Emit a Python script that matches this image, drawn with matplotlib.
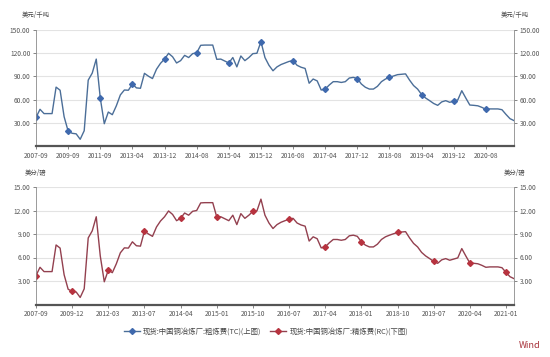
import numpy as np
import pandas as pd
import matplotlib
matplotlib.use("Agg")
import matplotlib.pyplot as plt
from matplotlib.lines import Line2D

plt.rcParams["font.family"] = ["Noto Sans CJK SC", "DejaVu Sans"]

# category axis: quarterly early on, monthly from 2013-04
early_dates = ["2007-09", "2007-12", "2008-03", "2008-06", "2008-09", "2008-12",
               "2009-03", "2009-06", "2009-09", "2009-12", "2010-03", "2010-06",
               "2010-09", "2010-12", "2011-03", "2011-06", "2011-09", "2011-12",
               "2012-03", "2012-06", "2012-09", "2012-12", "2013-01", "2013-03"]
monthly_dates = list(pd.period_range("2013-04", "2021-03", freq="M").strftime("%Y-%m"))
dates = early_dates + monthly_dates

# TC, USD/t (upper panel)
tc = [37, 47.5, 42, 42, 42, 76, 72, 38, 19.5, 16.7,
      16, 9, 20, 85, 94, 112, 62, 29, 44, 40.6,
      52, 66, 72.3, 72, 80, 75, 74.5, 93.7, 90, 87,
      99, 106.6, 112, 119.4, 115, 107, 110, 116.8, 114, 119,
      120, 129.7, 130, 130, 130, 111.7, 112, 109.5, 107, 114,
      102, 116, 110, 114, 119, 119.5, 134.5, 114, 104, 97,
      102, 105, 107, 109, 110, 104, 101.5, 100, 81, 86.4,
      84, 72.3, 73.5, 78.7, 83, 83, 82, 83, 87.7, 88.5,
      87, 80, 75.8, 73.5, 73.5, 77, 83, 86.4, 88.5, 90.3,
      92, 92.5, 93, 85, 78, 73.5, 66.5, 62, 58.6, 55,
      52.6, 57, 58.6, 56.5, 58, 59.5, 71.4, 62, 53, 52.6,
      52, 50, 47.5, 48, 48, 48, 47, 41, 35.5, 33]

# RC, US cents/lb (lower panel)
rc = [3.7, 4.75, 4.2, 4.2, 4.2, 7.6, 7.2, 3.8, 1.95, 1.67,
      1.6, 0.9, 2.0, 8.5, 9.4, 11.2, 6.2, 2.9, 4.4, 4.06,
      5.2, 6.6, 7.23, 7.2, 8.0, 7.5, 7.45, 9.37, 9.0, 8.7,
      9.9, 10.66, 11.2, 11.94, 11.5, 10.7, 11.0, 11.68, 11.4, 11.9,
      12.0, 12.97, 13.0, 13.0, 13.0, 11.17, 11.2, 10.95, 10.7, 11.4,
      10.2, 11.6, 11.0, 11.4, 11.9, 11.95, 13.45, 11.4, 10.4, 9.7,
      10.2, 10.5, 10.7, 10.9, 11.0, 10.4, 10.15, 10.0, 8.1, 8.64,
      8.4, 7.23, 7.35, 7.87, 8.3, 8.3, 8.2, 8.3, 8.77, 8.85,
      8.7, 8.0, 7.58, 7.35, 7.35, 7.7, 8.3, 8.64, 8.85, 9.03,
      9.2, 9.25, 9.3, 8.5, 7.8, 7.35, 6.65, 6.2, 5.86, 5.5,
      5.26, 5.7, 5.86, 5.65, 5.8, 5.95, 7.14, 6.2, 5.3, 5.26,
      5.2, 5.0, 4.75, 4.8, 4.8, 4.8, 4.7, 4.1, 3.55, 3.3]

tc_ticks = [30, 60, 90, 120, 150]
rc_ticks = [3, 6, 9, 12, 15]
tc_label = "现货:中国铜冶炼厂:粗炼费(TC)(上图)"
rc_label = "现货:中国铜冶炼厂:精炼费(RC)(下图)"

blue_line, blue_mk = "#4b6e98", "#3f69ad"
red_line, red_mk = "#93404f", "#b7333f"
tick_color = "#555555"
fs = 4.8

fig = plt.figure(figsize=(5.5, 3.57), dpi=100)
ax1 = fig.add_axes([36/550, 1-146.3/357, 478/550, 116.8/357])
ax2 = fig.add_axes([36/550, 1-304.5/357, 478/550, 117.5/357])

x = np.arange(len(dates))

def style(ax, yticks, step, ymax):
    ax.set_xlim(0, len(dates) - 1)
    ax.set_ylim(0, ymax)
    ax.set_yticks(yticks)
    ax.set_yticklabels(["%.2f" % v for v in yticks])
    xt = list(range(0, len(dates), step))
    ax.set_xticks(xt)
    ax.set_xticklabels([dates[i] for i in xt])
    ax.grid(axis="y", color="#e3e3e3", linewidth=0.8)
    ax.set_axisbelow(True)
    ax.spines["top"].set_visible(False)
    for s in ["left", "right"]:
        ax.spines[s].set_color("#8a8a8a")
        ax.spines[s].set_linewidth(0.6)
    ax.spines["bottom"].set_color("#555555")
    ax.spines["bottom"].set_linewidth(1.6)
    ax.tick_params(axis="y", labelsize=fs, colors=tick_color, length=2.5, width=0.5,
                   right=True, labelright=True, pad=1.5)
    ax.tick_params(axis="x", labelsize=fs, colors=tick_color, length=2, width=0.5, pad=2)

ax1.plot(x, tc, color=blue_line, linewidth=1.0)
m1 = list(range(0, len(dates), 8))
ax1.plot(x[m1], [tc[i] for i in m1], linestyle="none", marker="D", markersize=3,
         color=blue_mk)
style(ax1, tc_ticks, 8, 150)

ax2.plot(x, rc, color=red_line, linewidth=1.0)
m2 = list(range(0, len(dates), 9))
ax2.plot(x[m2], [rc[i] for i in m2], linestyle="none", marker="D", markersize=3,
         color=red_mk)
style(ax2, rc_ticks, 9, 15)

# unit labels
fig.text(36/550, 1-15/357, "美元/千吨", fontsize=4.6, color="#444444", ha="center", va="center")
fig.text(515/550, 1-15/357, "美元/千吨", fontsize=4.6, color="#444444", ha="center", va="center")
fig.text(36/550, 1-173/357, "美分/磅", fontsize=4.6, color="#444444", ha="center", va="center")
fig.text(515/550, 1-173/357, "美分/磅", fontsize=4.6, color="#444444", ha="center", va="center")

handles = [Line2D([], [], color=blue_line, marker="D", markersize=3, markerfacecolor=blue_mk,
                  markeredgecolor=blue_mk, linewidth=1.0),
           Line2D([], [], color=red_line, marker="D", markersize=3, markerfacecolor=red_mk,
                  markeredgecolor=red_mk, linewidth=1.0)]
fig.legend(handles, [tc_label, rc_label], loc="center", bbox_to_anchor=(266/550, 1-332/357),
           ncol=2, frameon=False, fontsize=5.3, handlelength=2.2, handletextpad=0.4,
           columnspacing=1.2, labelcolor="#444444")

fig.text(530/550, 1-346/357, "Wind", fontsize=6.5, color="#a8323a", ha="center", va="center")

fig.savefig("out.png", dpi=100)
